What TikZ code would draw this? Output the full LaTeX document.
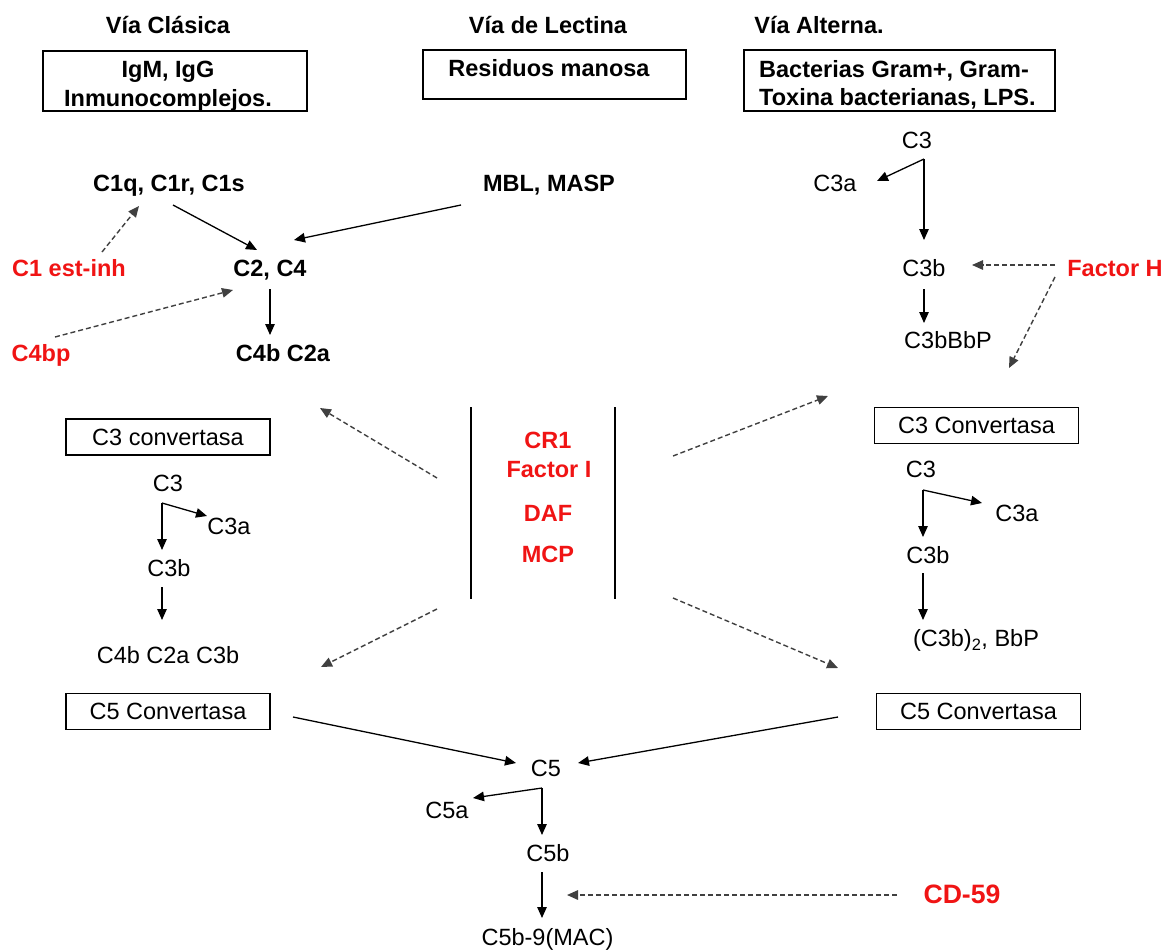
\documentclass[tikz,border=0pt]{standalone}
\usepackage{fontspec}
\setmainfont{Liberation Sans}
\usepackage{tikz}
\usetikzlibrary{arrows.meta}
\definecolor{inhred}{RGB}{240,20,20}

\begin{document}
\begin{tikzpicture}[x=1pt,y=-1pt,
  every node/.style={inner sep=0pt, text height=16.8pt, text depth=0pt,
    font=\fontsize{23.5}{29}\selectfont},
  hd/.style={font=\fontsize{23.5}{29}\selectfont\bfseries},
  inh/.style={text=inhred, font=\fontsize{23.5}{29}\selectfont\bfseries},
  conv/.style={draw, line width=1.8pt, minimum width=204pt, minimum height=36pt},
  arr/.style={line width=1.3pt, -{Triangle[length=11pt,width=9.5pt]}},
  darr/.style={arr, black!75, line width=1.4pt, dash pattern=on 5pt off 3pt}]
  \useasboundingbox (0,0) rectangle (1165,951);

  % three pathways
  \node[hd] (hdclas) at (168,25) {Vía Clásica};
  \node[hd] (hdlect) at (548,25) {Vía de Lectina};
  \node[hd] (hdalt) at (819,25) {Vía Alterna.};
  \draw[line width=1.8pt] (43,51) rectangle (307,111);
  \draw[line width=1.8pt] (423,50) rectangle (686,99);
  \draw[line width=1.8pt] (744,50) rectangle (1055,111);
  \node[hd] (igg) at (168,69) {IgM, IgG};
  \node[hd] (inmuno) at (168,98) {Inmunocomplejos.};
  \node[hd] (manosa) at (549,68) {Residuos manosa};
  \node[hd, anchor=west] (gram) at (759,69) {Bacterias Gram+, Gram-};
  \node[hd, anchor=west] (toxina) at (759,97) {Toxina bacterianas, LPS.};

  \node[hd] (c1q) at (169,183) {C1q, C1r, C1s};
  \node[hd] (mbl) at (549,183) {MBL, MASP};
  \node[hd] (c2c4) at (270,268) {C2, C4};
  \node[hd] (c4b) at (283,353) {C4b C2a};
  \node[inh] (c1inh) at (69,268) {C1 est-inh};
  \node[inh] (c4bp) at (41,353) {C4bp};

  \node (c3alt) at (917,140) {C3};
  \node (c3aalt) at (835,183) {C3a};
  \node (c3balt) at (924,268) {C3b};
  \node (c3bbbp) at (948,340) {C3bBbP};
  \node[inh] (factorh) at (1115,268) {Factor H};

  % regulators
  \draw[line width=1.8pt] (471,407) -- (471,599);
  \draw[line width=1.8pt] (615,407) -- (615,599);
  \node[inh] (cr1) at (548,440) {CR1};
  \node[inh] (factori) at (549,469) {Factor I};
  \node[inh] (daf) at (548,513) {DAF};
  \node[inh] (mcp) at (548,554) {MCP};

  \node[conv] (c3convl) at (168,437) {C3 convertasa};
  \node (c3l) at (168,483) {C3};
  \node (c3al) at (229,526) {C3a};
  \node (c3bl) at (169,568) {C3b};
  \node (c4c2c3) at (168,655) {C4b C2a C3b};
  \node[conv] (c5convl) at (168,711.5) {C5 Convertasa};

  \node[conv] (c3convr) at (976.5,425.5) {C3 Convertasa};
  \node (c3r) at (921,469) {C3};
  \node (c3ar) at (1017,513) {C3a};
  \node (c3br) at (928,555) {C3b};
  \node (c3b2) at (976,638) {(C3b)\textsubscript{2}, BbP};
  \node[conv] (c5convr) at (978.5,711.5) {C5 Convertasa};

  \node (c5) at (546,768) {C5};
  \node (c5a) at (447,810) {C5a};
  \node (c5b) at (548,853) {C5b};
  \node (mac) at (547.5,937) {C5b-9(MAC)};
  \node[inh, font=\fontsize{26.6}{30}\selectfont\bfseries] (cd59) at (962,895) {CD-59};

  \draw[arr] ([shift={(4,22)}]c1q.center) -- ([shift={(-13,-18)}]c2c4.center);
  \draw[arr] ([shift={(-88,22)}]mbl.center) -- ([shift={(24,-28)}]c2c4.center);
  \draw[darr] ([shift={(33,-16)}]c1inh.center) -- ([shift={(-30,23)}]c1q.center);
  \draw[darr] ([shift={(14,-16)}]c4bp.center) -- ([shift={(-37,22)}]c2c4.center);
  \draw[arr] ([shift={(0,21)}]c2c4.center) -- ([shift={(-13,-18)}]c4b.center);

  \draw[arr] ([shift={(7,19)}]c3alt.center) -- ([shift={(42,-2)}]c3aalt.center);
  \draw[arr] ([shift={(7,19)}]c3alt.center) -- ([shift={(0,-28)}]c3balt.center);
  \draw[darr] ([shift={(-60,-3)}]factorh.center) -- ([shift={(48,-3)}]c3balt.center);
  \draw[darr] ([shift={(-60,9)}]factorh.center) -- ([shift={(32.5,-57.5)}]c3convr.center);
  \draw[arr] ([shift={(0,21)}]c3balt.center) -- ([shift={(-24,-17)}]c3bbbp.center);

  \draw[darr] ([shift={(-112,9)}]factori.center) -- ([shift={(152,-29)}]c3convl.center);
  \draw[darr] ([shift={(-111,55)}]mcp.center) -- ([shift={(153,-44.5)}]c5convl.center);
  \draw[darr] ([shift={(124,-13)}]factori.center) -- ([shift={(-148.5,-29.5)}]c3convr.center);
  \draw[darr] ([shift={(125,44)}]mcp.center) -- ([shift={(-140.5,-43.5)}]c5convr.center);

  \draw[arr] ([shift={(-6,20)}]c3l.center) -- ([shift={(-22,-10)}]c3al.center);
  \draw[arr] ([shift={(-6,20)}]c3l.center) -- ([shift={(-7,-18)}]c3bl.center);
  \draw[arr] ([shift={(-7,19)}]c3bl.center) -- ([shift={(-6,-35)}]c4c2c3.center);

  \draw[arr] ([shift={(2,21)}]c3r.center) -- ([shift={(-35,-10)}]c3ar.center);
  \draw[arr] ([shift={(2,21)}]c3r.center) -- ([shift={(-5,-18)}]c3br.center);
  \draw[arr] ([shift={(-5,18)}]c3br.center) -- ([shift={(-53,-18)}]c3b2.center);

  \draw[arr] ([shift={(125,5.5)}]c5convl.center) -- ([shift={(-30,-5)}]c5.center);
  \draw[arr] ([shift={(-140.5,5.5)}]c5convr.center) -- ([shift={(32,-5)}]c5.center);
  \draw[arr] ([shift={(-4,20)}]c5.center) -- ([shift={(26,-12)}]c5a.center);
  \draw[arr] ([shift={(-4,20)}]c5.center) -- ([shift={(-6,-18)}]c5b.center);
  \draw[arr] ([shift={(-6,19)}]c5b.center) -- ([shift={(-5.5,-19)}]mac.center);
  \draw[darr] ([shift={(-65,0)}]cd59.center) -- ([shift={(19,42)}]c5b.center);
\end{tikzpicture}
\end{document}
